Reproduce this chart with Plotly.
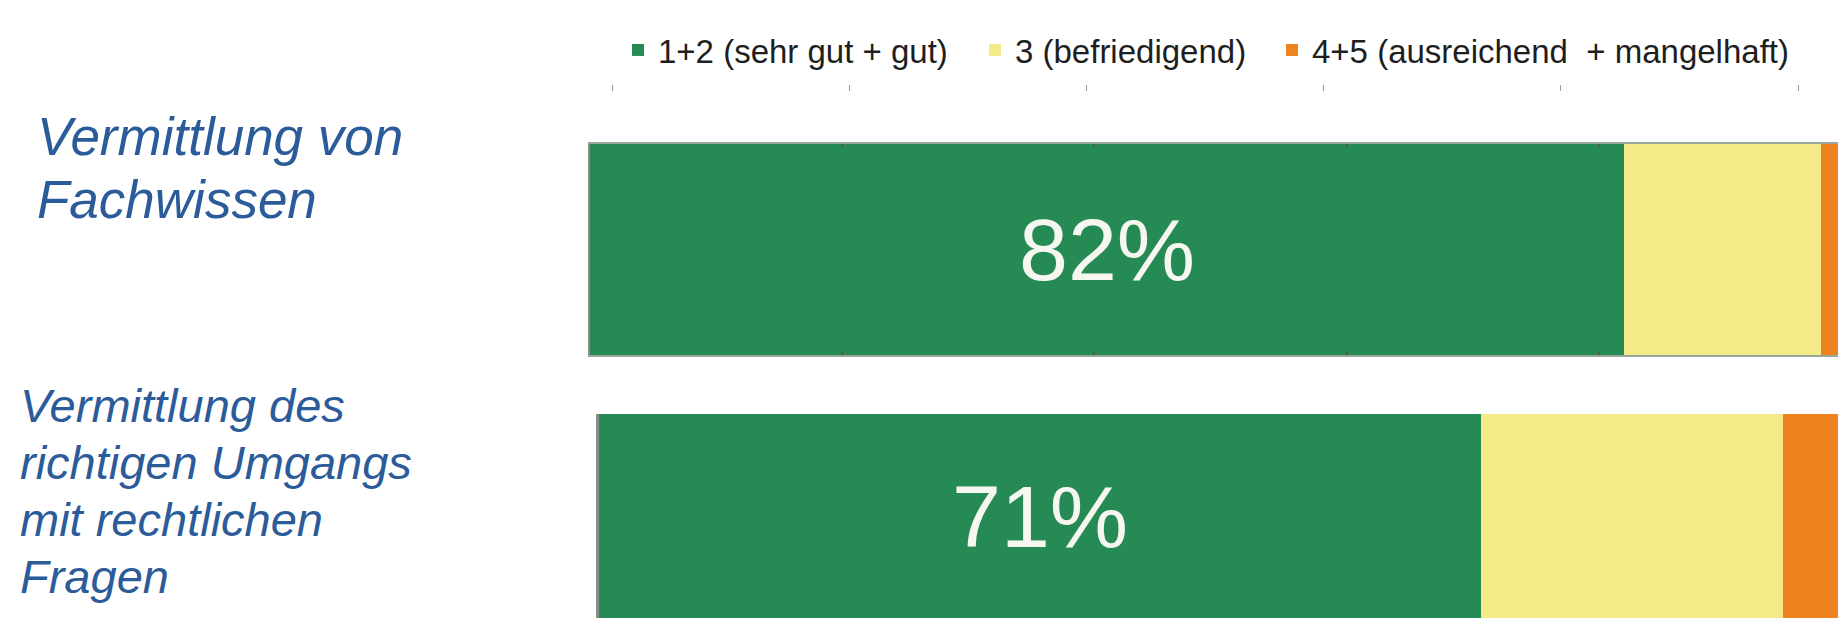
import plotly.graph_objects as go

# ---------------- data ----------------
categories = ["Vermittlung von Fachwissen",
              "Vermittlung des richtigen Umgangs mit rechtlichen Fragen"]
category_lines = [["Vermittlung von", "Fachwissen"],
                  ["Vermittlung des", "richtigen Umgangs", "mit rechtlichen", "Fragen"]]
series_names = ["1+2 (sehr gut + gut)", "3 (befriedigend)",
                "4+5 (ausreichend\u00a0 + mangelhaft)"]
good = [82, 71]            # 1+2 (sehr gut + gut)
satisfactory = [15.6, 24.3]  # 3 (befriedigend)
poor = [2.4, 4.7]          # 4+5 (ausreichend + mangelhaft)
scale_ticks = [0, 20, 40, 60, 80, 100]
grid_ticks = [20, 40, 60, 80]

# ---------------- style ----------------
W, H = 1838, 618
colors = ["#268a55", "#f3eb87", "#ee831d"]
label_color = "#2b5c99"
FONT = "Liberation Sans, Arial, Helvetica, sans-serif"


def fx(px):
    return px / W


def fy(px):
    return 1 - px / H


series = [good, satisfactory, poor]
axes = [("x", "y"), ("x2", "y2")]
legends = ["legend", "legend2", "legend3"]

fig = go.Figure()
for bi in range(len(categories)):
    for si in range(len(series)):
        tr = dict(
            x=[series[si][bi]], y=[categories[bi]], orientation="h",
            name=series_names[si],
            marker=dict(color=colors[si], line=dict(width=0)),
            xaxis=axes[bi][0], yaxis=axes[bi][1],
            showlegend=(bi == 0), legend=legends[si],
            hoverinfo="skip",
        )
        if si == 0:
            tr.update(texttemplate="%{x}%", textposition="inside",
                      insidetextanchor="middle", textangle=0,
                      textfont=dict(size=88, color="#f6f7f0", family=FONT))
        else:
            tr.update(textposition="none")
        fig.add_trace(go.Bar(**tr))

# carrier trace for the top scale axis
fig.add_trace(go.Scatter(x=[], y=[], xaxis="x3", yaxis="y3",
                         showlegend=False, hoverinfo="skip"))

# scale in px per percent for each (cropped) bar
bar1_left, bar1_scale = 590, 12.61
bar2_left, bar2_scale = 599, 12.42

leg_common = dict(orientation="h", xanchor="left", yanchor="middle",
                  y=fy(50), bgcolor="rgba(0,0,0,0)", borderwidth=0,
                  font=dict(size=33, color="#1e1e1e", family=FONT))

fig.update_layout(
    width=W, height=H, autosize=False,
    margin=dict(l=0, r=0, t=0, b=0),
    paper_bgcolor="white", plot_bgcolor="rgba(0,0,0,0)",
    barmode="stack", bargap=0,
    xaxis=dict(domain=[fx(bar1_left), 1], range=[0, (W - bar1_left) / bar1_scale],
               anchor="y", showline=True, linecolor="#9aa69a", linewidth=2,
               mirror="ticks", ticks="inside", ticklen=3, tickwidth=2,
               tickcolor="#4d5a4d", tickvals=grid_ticks, showticklabels=False,
               showgrid=False, zeroline=False, fixedrange=True),
    yaxis=dict(domain=[fy(355), fy(144)], anchor="x", range=[-0.5, 0.5],
               showline=True, linecolor="#8a8a8a", linewidth=2,
               showticklabels=False, ticks="", showgrid=False, zeroline=False),
    xaxis2=dict(domain=[fx(bar2_left), 1], range=[0, (W - bar2_left) / bar2_scale],
                anchor="y2", showline=False, showticklabels=False, ticks="",
                showgrid=False, zeroline=False),
    yaxis2=dict(domain=[0, fy(414)], anchor="x2", range=[-0.5, 0.5],
                showline=True, linecolor="#8a8a8a", linewidth=3,
                showticklabels=False, ticks="", showgrid=False, zeroline=False),
    xaxis3=dict(domain=[fx(612), fx(1798)], range=[0, 100], anchor="free",
                position=fy(91), side="top", ticks="outside", ticklen=6,
                tickwidth=1, tickcolor="#9a9a9a", tickvals=scale_ticks,
                showticklabels=False, showline=False, showgrid=False,
                zeroline=False),
    yaxis3=dict(domain=[fy(92), fy(90)], anchor="x3", visible=False),
    legend=dict(x=fx(618), **leg_common),
    legend2=dict(x=fx(975), **leg_common),
    legend3=dict(x=fx(1272), **leg_common),
    showlegend=True,
)

# category labels on the left (italic blue, one annotation per line)
label_layout = [  # (left px, first baseline px, line step px, font size)
    (36, 155, 63, 53),
    (19, 422, 57, 47),
]
for lines, (lx, base0, step, size) in zip(category_lines, label_layout):
    for k, line in enumerate(lines):
        baseline = base0 + k * step
        center = baseline - 0.3465 * size
        fig.add_annotation(
            text=line, xref="paper", yref="paper",
            x=fx(lx), y=fy(center), xanchor="left", yanchor="middle",
            showarrow=False, borderpad=0,
            font=dict(size=size, color=label_color, family=FONT, style="italic"),
        )

fig.write_html("out.html", config={"displayModeBar": False},
               post_script="document.body.style.margin='0';document.body.style.overflow='hidden';")
